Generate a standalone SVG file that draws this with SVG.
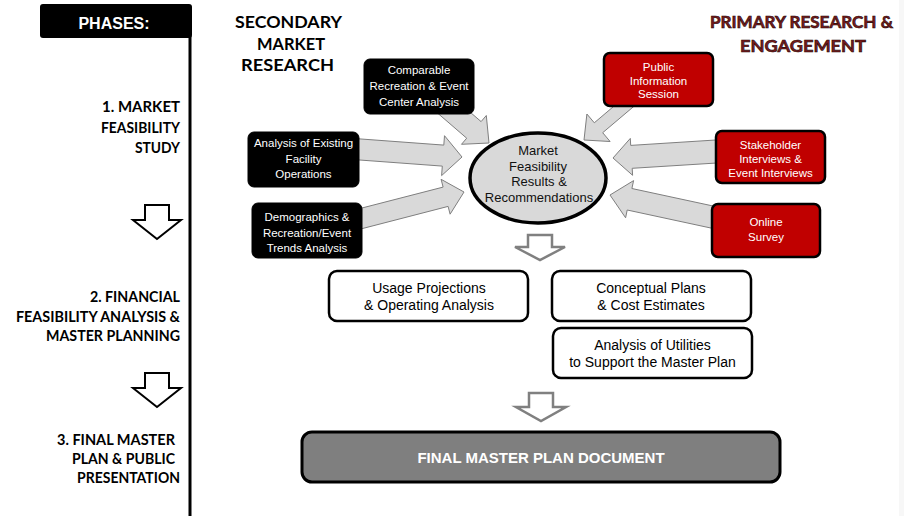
<svg xmlns="http://www.w3.org/2000/svg" width="904" height="516" viewBox="0 0 904 516">
<style>
.hd{font-family:Lato,"Open Sans","Liberation Sans",sans-serif;font-weight:bold;font-size:17px;text-anchor:middle}
.ph{font-family:Lato,"Open Sans","Liberation Sans",sans-serif;font-weight:bold;font-size:15px;text-anchor:end;fill:#000}
.bx{font-family:"Liberation Sans",Arial,sans-serif;font-size:11.5px;text-anchor:middle;fill:#fff}
.md{font-family:"Liberation Sans",Arial,sans-serif;font-size:14px;text-anchor:middle;fill:#000}
.el{font-family:"Liberation Sans",Arial,sans-serif;font-size:13px;text-anchor:middle;fill:#111}
.blk{fill:#000;stroke:#000;stroke-width:1}
.red{fill:#c00000;stroke:#000;stroke-width:2.5}
.wht{fill:#fff;stroke:#000;stroke-width:2.5}
.ga{fill:#d9d9d9;stroke:#7f7f7f;stroke-width:1;stroke-linejoin:miter}
.ha{fill:#fff;stroke:#000;stroke-width:2}
.hg{fill:#fff;stroke:#808080;stroke-width:2.5}
</style>
<rect x="0" y="0" width="904" height="516" fill="#fff"/>
<rect x="899" y="0" width="5" height="516" fill="#f7f7f7"/>

<g id="phases">
<rect x="40" y="4" width="152" height="34" rx="3" fill="#000"/>
<text x="114" y="29" font-family="'Liberation Sans',Arial,sans-serif" font-weight="bold" font-size="16" fill="#fff" text-anchor="middle">PHASES:</text>
<line x1="190" y1="36" x2="190" y2="516" stroke="#000" stroke-width="3"/>
</g>

<g id="phase1">
<text class="ph" x="180" y="112" textLength="78" lengthAdjust="spacingAndGlyphs">1. MARKET</text>
<text class="ph" x="180" y="132.5" textLength="79" lengthAdjust="spacingAndGlyphs">FEASIBILITY</text>
<text class="ph" x="180" y="153" textLength="45" lengthAdjust="spacingAndGlyphs">STUDY</text>
</g>
<g id="phase2">
<text class="ph" x="180" y="302" textLength="90" lengthAdjust="spacingAndGlyphs">2. FINANCIAL</text>
<text class="ph" x="180" y="321.5" textLength="164" lengthAdjust="spacingAndGlyphs">FEASIBILITY ANALYSIS &amp;</text>
<text class="ph" x="180" y="341" textLength="134" lengthAdjust="spacingAndGlyphs">MASTER PLANNING</text>
</g>
<g id="phase3">
<text class="ph" x="175" y="445" textLength="118" lengthAdjust="spacingAndGlyphs">3. FINAL MASTER</text>
<text class="ph" x="175" y="464" textLength="103" lengthAdjust="spacingAndGlyphs">PLAN &amp; PUBLIC</text>
<text class="ph" x="180" y="483" textLength="103" lengthAdjust="spacingAndGlyphs">PRESENTATION</text>
</g>

<g id="heading-secondary">
<text class="hd" x="288.5" y="28" fill="#000" textLength="107" lengthAdjust="spacingAndGlyphs">SECONDARY</text>
<text class="hd" x="291" y="49.5" fill="#000" textLength="68" lengthAdjust="spacingAndGlyphs">MARKET</text>
<text class="hd" x="287.5" y="71" fill="#000" textLength="93" lengthAdjust="spacingAndGlyphs">RESEARCH</text>
</g>
<g id="heading-primary">
<text class="hd" x="801.5" y="28" fill="#7a1c1c" stroke="#1a0505" stroke-width="0.6" textLength="183" lengthAdjust="spacingAndGlyphs">PRIMARY RESEARCH &amp;</text>
<text class="hd" x="803" y="52" fill="#7a1c1c" stroke="#1a0505" stroke-width="0.6" textLength="126" lengthAdjust="spacingAndGlyphs">ENGAGEMENT</text>
</g>

<g id="connectors">
<polygon class="ga" points="437.8,113.3 466.7,138.2 461.5,144.3 489,143 486.3,115.5 481.1,121.6 452.2,96.7"/>
<polygon class="ga" points="339.2,158.5 442.3,166.1 441.6,175.6 462,157 444.5,135.7 443.8,145.1 340.8,137.5"/>
<polygon class="ga" points="342.5,233.7 448.1,206.4 450.1,214.2 464,192 441.1,179.3 443.1,187.1 337.5,214.3"/>
<polygon class="ga" points="631.8,91 594.3,122.8 586.9,114 584,140 610.1,141.5 602.7,132.7 640.2,101"/>
<polygon class="ga" points="739.3,138.5 630.7,145.4 630.3,138.4 613,158 632.6,175.3 632.2,168.3 740.7,161.5"/>
<polygon class="ga" points="742.3,212.3 631.9,188.5 633.6,180.6 610,195 625.6,217.8 627.2,210 737.7,233.8"/>
<polygon class="ha" points="145,205 169,205 169,220 181,220 157,239 133,220 145,220"/>
<polygon class="ha" points="145,373 169,373 169,388 181,388 157,407 133,388 145,388"/>
<polygon class="hg" points="528,235 552,235 552,247 565,247 540,260 515,247 528,247"/>
<polygon class="hg" points="529,393 553,393 553,407 566,407 541,421 516,407 529,407"/>
</g>

<g id="comparable">
<rect class="blk" x="364" y="59" width="110" height="55" rx="6"/>
<text class="bx" x="419" y="74">Comparable</text>
<text class="bx" x="419" y="90">Recreation &amp; Event</text>
<text class="bx" x="419" y="106">Center Analysis</text>
</g>
<g id="existing">
<rect class="blk" x="248" y="132" width="111" height="55" rx="6"/>
<text class="bx" x="303.5" y="147">Analysis of Existing</text>
<text class="bx" x="303.5" y="163">Facility</text>
<text class="bx" x="303.5" y="178">Operations</text>
</g>
<g id="demographics">
<rect class="blk" x="252" y="203" width="110" height="55" rx="6"/>
<text class="bx" x="307" y="221">Demographics &amp;</text>
<text class="bx" x="307" y="236.5">Recreation/Event</text>
<text class="bx" x="307" y="252">Trends Analysis</text>
</g>
<g id="public">
<rect class="red" x="604" y="53" width="109" height="53" rx="6"/>
<text class="bx" x="658.5" y="71">Public</text>
<text class="bx" x="658.5" y="84.5">Information</text>
<text class="bx" x="658.5" y="98">Session</text>
</g>
<g id="stakeholder">
<rect class="red" x="716" y="131" width="109" height="52" rx="6"/>
<text class="bx" x="770.5" y="148.5">Stakeholder</text>
<text class="bx" x="770.5" y="162.5">Interviews &amp;</text>
<text class="bx" x="770.5" y="176.5">Event Interviews</text>
</g>
<g id="survey">
<rect class="red" x="712" y="204" width="108" height="53" rx="6"/>
<text class="bx" x="766" y="226">Online</text>
<text class="bx" x="766" y="241">Survey</text>
</g>
<g id="market-results">
<ellipse cx="538" cy="178" rx="68" ry="45" fill="#d9d9d9" stroke="#000" stroke-width="3.5"/>
<text class="el" x="538" y="155">Market</text>
<text class="el" x="538" y="170.5">Feasibility</text>
<text class="el" x="539" y="186">Results &amp;</text>
<text class="el" x="539" y="201.5">Recommendations</text>
</g>
<g id="usage">
<rect class="wht" x="329" y="271" width="199" height="50" rx="8"/>
<text class="md" x="429" y="293">Usage Projections</text>
<text class="md" x="429" y="310">&amp; Operating Analysis</text>
</g>
<g id="conceptual">
<rect class="wht" x="552" y="271" width="199" height="50" rx="8"/>
<text class="md" x="651" y="293">Conceptual Plans</text>
<text class="md" x="651" y="310">&amp; Cost Estimates</text>
</g>
<g id="utilities">
<rect class="wht" x="553" y="328" width="199" height="50" rx="8"/>
<text class="md" x="652.5" y="350">Analysis of Utilities</text>
<text class="md" x="652.5" y="367">to Support the Master Plan</text>
</g>
<g id="final">
<rect x="302" y="432" width="478" height="50" rx="10" fill="#7f7f7f" stroke="#000" stroke-width="3"/>
<text x="541" y="463" font-family="'Liberation Sans',Arial,sans-serif" font-weight="bold" font-size="15" fill="#fff" text-anchor="middle">FINAL MASTER PLAN DOCUMENT</text>
</g>
</svg>
